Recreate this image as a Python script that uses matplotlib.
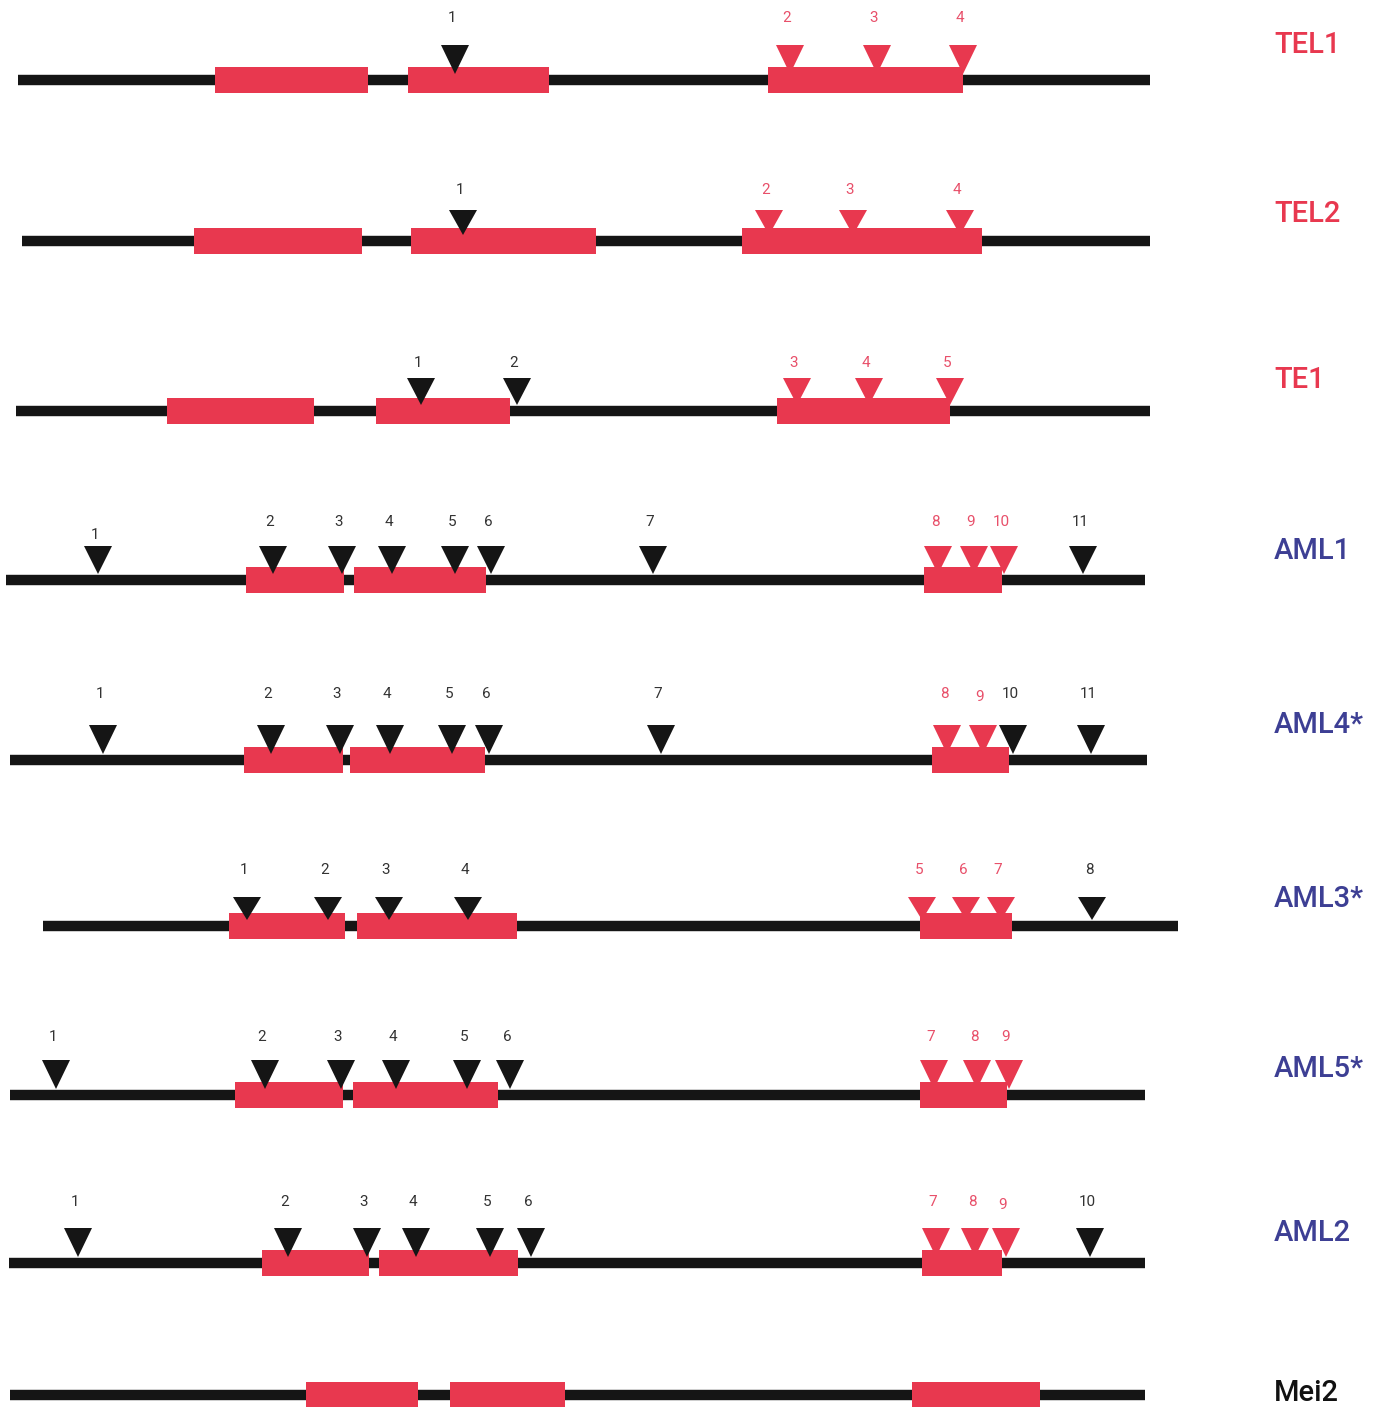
import matplotlib
matplotlib.use("Agg")
from matplotlib import pyplot as plt

RED = "#e8384f"
BLUE = "#3d3f94"
DARK = "#151515"

names = ["TEL1", "TEL2", "TE1", "AML1", "AML4*", "AML3*", "AML5*", "AML2", "Mei2"]
name_colors = [RED, RED, RED, BLUE, BLUE, BLUE, BLUE, BLUE, "#111111"]
name_y = [45, 214, 380, 551, 725, 899, 1069, 1233, 1393]

# backbone of each gene: y of the line, start and end
track_y = [80, 241, 411, 580, 760, 926, 1095, 1263, 1395]
track_start = [18, 22, 16, 6, 10, 43, 10, 9, 10]
track_end = [1150, 1150, 1150, 1145, 1147, 1178, 1145, 1145, 1145]

# exon blocks (start, end)
exons = [
    [(215, 368), (408, 549), (768, 963)],
    [(194, 362), (411, 596), (742, 982)],
    [(167, 314), (376, 510), (777, 950)],
    [(246, 344), (354, 486), (924, 1002)],
    [(244, 343), (350, 485), (932, 1009)],
    [(229, 345), (357, 517), (920, 1012)],
    [(235, 343), (353, 498), (920, 1007)],
    [(262, 369), (379, 518), (922, 1002)],
    [(306, 418), (450, 565), (912, 1040)],
]

# insertion sites, numbered from the left; 1 = red site
sites = [
    [455, 790, 877, 963],
    [463, 769, 853, 960],
    [421, 517, 797, 869, 950],
    [98, 273, 342, 392, 455, 491, 653, 938, 974, 1004, 1083],
    [103, 271, 340, 390, 452, 489, 661, 947, 983, 1013, 1091],
    [247, 328, 389, 468, 922, 966, 1001, 1092],
    [56, 265, 341, 396, 467, 510, 934, 977, 1009],
    [78, 288, 367, 416, 490, 531, 936, 975, 1006, 1090],
    [],
]
site_red = [
    [0, 1, 1, 1],
    [0, 1, 1, 1],
    [0, 0, 1, 1, 1],
    [0, 0, 0, 0, 0, 0, 0, 1, 1, 1, 0],
    [0, 0, 0, 0, 0, 0, 0, 1, 1, 0, 0],
    [0, 0, 0, 0, 1, 1, 1, 0],
    [0, 0, 0, 0, 0, 0, 1, 1, 1],
    [0, 0, 0, 0, 0, 0, 1, 1, 1, 0],
    [],
]
tri_top = [45, 210, 378, 546, 725, 897, 1060, 1228, 0]
label_y = [18, 190, 363, 522, 694, 870, 1037, 1202, 0]
# a few numbers sit lower than the rest of their row
label_shift = {(3, 0): 13, (4, 8): 3, (7, 8): 3}

fig = plt.figure(figsize=(13.77, 14.07), dpi=100)
ax = fig.add_axes([0, 0, 1, 1])
ax.set_xlim(0, 1377)
ax.set_ylim(1407, 0)
ax.axis("off")

half_w = 14
for i, name in enumerate(names):
    y = track_y[i]
    ax.plot([track_start[i], track_end[i]], [y, y], color=DARK, lw=7.5,
            solid_capstyle="butt", zorder=1)
    for x0, x1 in exons[i]:
        ax.add_patch(plt.Rectangle((x0, y - 13), x1 - x0, 26, color=RED, lw=0, zorder=2))
    for j, x in enumerate(sites[i]):
        c = RED if site_red[i][j] else DARK
        ax.fill([x - half_w, x + half_w, x], [tri_top[i], tri_top[i], y - 6],
                color=c, lw=0, zorder=3)
        tc = "#e8506a" if site_red[i][j] else "#333333"
        ly = label_y[i] + label_shift.get((i, j), 0)
        ax.text(x - 3, ly, str(j + 1), color=tc, fontsize=11, ha="center",
                va="center", family="Roboto")
    ax.text(1274, name_y[i], name, color=name_colors[i], fontsize=21,
            ha="left", va="center", family="Roboto", fontweight="medium")

plt.savefig("out.png", dpi=100)
